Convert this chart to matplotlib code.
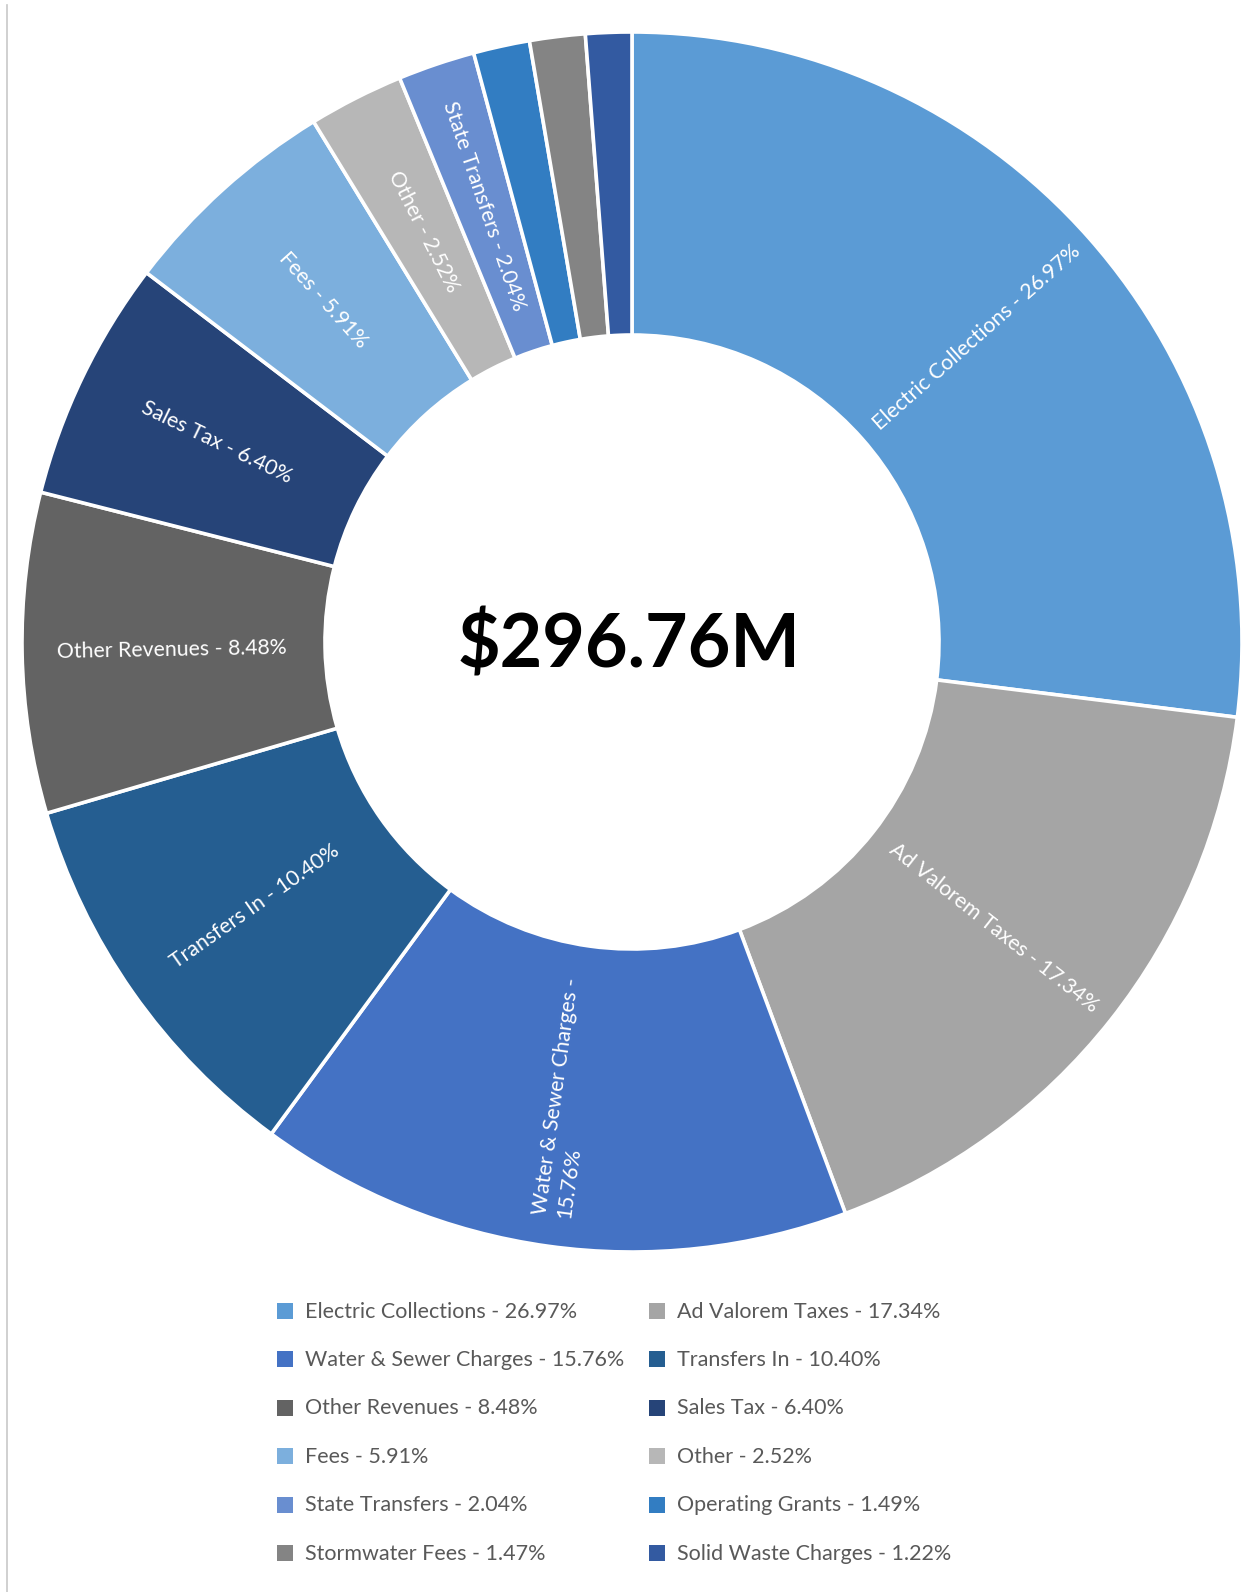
import matplotlib
matplotlib.use("Agg")
import matplotlib.pyplot as plt
from matplotlib.patches import Rectangle
from matplotlib.lines import Line2D
import numpy as np

# Revenue sources and their share of the total (percent)
categories = [
    "Electric Collections", "Ad Valorem Taxes", "Water & Sewer Charges",
    "Transfers In", "Other Revenues", "Sales Tax", "Fees", "Other",
    "State Transfers", "Operating Grants", "Stormwater Fees",
    "Solid Waste Charges",
]
shares = [26.97, 17.34, 15.76, 10.40, 8.48, 6.40, 5.91, 2.52, 2.04, 1.49, 1.47, 1.22]
colors = [
    "#5B9BD5", "#A5A5A5", "#4472C4", "#255E91", "#636363", "#264478",
    "#7CAFDD", "#B7B7B7", "#698ED0", "#327DC2", "#848484", "#335AA1",
]
total_label = "$296.76M"
# slices too thin to carry a label inside the ring
unlabelled = {"Operating Grants", "Stormwater Fees", "Solid Waste Charges"}
# labels that wrap onto a second line before the percentage
wrapped = {"Water & Sewer Charges"}

FONT = "Lato"
W, H = 1259, 1592

fig = plt.figure(figsize=(W / 100, H / 100), dpi=100)
fig.patch.set_facecolor("white")
ax = fig.add_axes([0, 0, 1, 1])


def Y(y_img):
    """Convert a top-down pixel row into the axes' upward y coordinate."""
    return H - y_img


cx, cy = 632, Y(642)
R_out, R_in = 610, 307

wedges, _ = ax.pie(
    shares, colors=colors, startangle=90, counterclock=False,
    center=(cx, cy), radius=R_out,
    wedgeprops=dict(width=R_out - R_in, edgecolor="white", linewidth=2.6),
)
ax.set_xlim(0, W)
ax.set_ylim(0, H)
ax.set_aspect("equal")
ax.axis("off")

# In-ring labels, oriented along the radius of each slice
r_mid = (R_out + R_in) / 2 + 2
for w, cat, val in zip(wedges, categories, shares):
    if cat in unlabelled:
        continue
    theta = (w.theta1 + w.theta2) / 2
    t = np.deg2rad(theta)
    x, y = cx + r_mid * np.cos(t), cy + r_mid * np.sin(t)
    rot = theta % 360
    if 90 < rot < 270:
        rot -= 180
    sep = "\n" if cat in wrapped else " "
    label = f"{cat} -{sep}{val:.2f}%"
    ax.text(x, y, label, rotation=rot, rotation_mode="anchor",
            ha="center", va="center", multialignment="left",
            color="white", fontsize=15.3, family=FONT, linespacing=1.3)

# Total in the hole
ax.text(cx - 3, Y(667), total_label, ha="center", va="baseline",
        fontsize=53, fontweight="bold", family=FONT, color="black")

# Two-column legend below the ring, filled row by row
row0, row_step = 1311, 48.4
marker_x = [285.3, 657.0]
text_x = [305.0, 677.0]
sq = 16
for i, (cat, val, col) in enumerate(zip(categories, shares, colors)):
    row, c = divmod(i, 2)
    yc = row0 + row * row_step
    ax.add_patch(Rectangle((marker_x[c] - sq / 2, Y(yc) - sq / 2), sq, sq,
                           facecolor=col, edgecolor="none"))
    ax.text(text_x[c], Y(yc + 6.5), f"{cat} - {val:.2f}%", ha="left",
            va="baseline", fontsize=15.5, family=FONT, color="#595959")

# Thin rule along the left edge of the page
fig.add_artist(Line2D([6.5 / W, 6.5 / W], [0, 1 - 5 / H],
                      transform=fig.transFigure, color="#c8c8c8", lw=1.2))

fig.savefig("out.png", dpi=100, facecolor="white")
